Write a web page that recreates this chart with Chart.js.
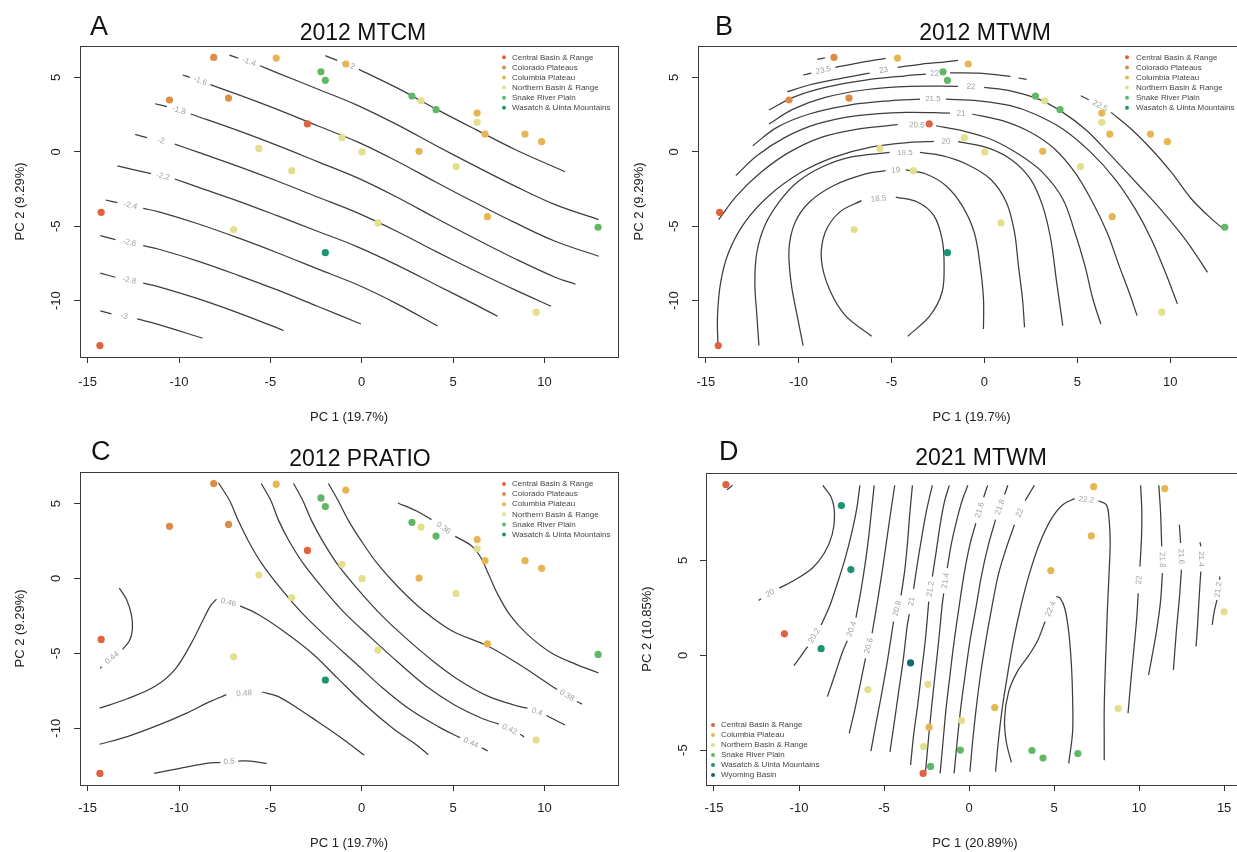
<!DOCTYPE html>
<html>
<head>
<meta charset="utf-8">
<script src="https://cdn.jsdelivr.net/npm/chart.js@4.4.1/dist/chart.umd.min.js"></script>
<style>
html, body { margin: 0; padding: 0; background: #fff; width: 1237px; height: 852px; overflow: hidden; }
.panel { position: absolute; }
</style>
</head>
<body>
<canvas id="chartA" class="panel" width="622" height="425" style="left:0;top:0"></canvas>
<canvas id="chartB" class="panel" width="640" height="425" style="left:616px;top:0"></canvas>
<canvas id="chartC" class="panel" width="622" height="427" style="left:0;top:425px"></canvas>
<canvas id="chartD" class="panel" width="640" height="427" style="left:616px;top:425px"></canvas>
<script>
var fontFamily = '"Liberation Sans", Arial, Helvetica, sans-serif';

// 2012 sites (same PCA for panels A, B, C)
var names2012 = ['Central Basin & Range', 'Colorado Plateaus', 'Columbia Plateau', 'Northern Basin & Range', 'Snake River Plain', 'Wasatch & Uinta Mountains'];
var central2012 = [[-14.26, -4.07], [-14.33, -13.02], [-2.97, 1.87]];
var colorado2012 = [[-8.10, 6.34], [-10.52, 3.48], [-7.29, 3.61]];
var columbia2012 = [[-4.68, 6.30], [-0.87, 5.90], [3.14, 0.03], [6.32, 2.60], [6.75, 1.19], [8.94, 1.19], [9.85, 0.68], [6.88, -4.36]];
var northern2012 = [[3.25, 3.43], [6.32, 1.98], [-1.08, 0.95], [0.02, -0.01], [-5.63, 0.23], [-3.83, -1.27], [5.17, -1.00], [0.89, -4.78], [-7.01, -5.23], [9.55, -10.78]];
var snake2012 = [[-2.23, 5.38], [-1.99, 4.80], [2.75, 3.75], [4.07, 2.83], [12.94, -5.07]];
var wasatch2012 = [[-1.99, -6.78]];

// 2021 sites (panel D)
var names2021 = ['Central Basin & Range', 'Columbia Plateau', 'Northern Basin & Range', 'Snake River Plain', 'Wasatch & Uinta Mountains', 'Wyoming Basin'];
var central2021 = [[-14.30, 9.00], [-10.86, 1.13], [-2.70, -6.23]];
var columbia2021 = [[7.33, 8.89], [11.51, 8.79], [7.19, 6.30], [4.81, 4.47], [1.51, -2.76], [-2.35, -3.80]];
var northern2021 = [[15.00, 2.29], [8.77, -2.80], [-5.95, -1.81], [-2.42, -1.53], [-0.44, -3.43], [-2.67, -4.81]];
var snake2021 = [[-0.51, -5.00], [-2.26, -5.86], [3.70, -5.02], [4.35, -5.42], [6.40, -5.18]];
var wasatch2021 = [[-7.51, 7.89], [-6.95, 4.52], [-8.70, 0.35]];
var wyoming2021 = [[-3.44, -0.40]];

var colCentral = '#e0623e', colColorado = '#df8b48', colColumbia = '#e5b651', colNorthern = '#e3df8d';
var colSnake = '#61b864', colWasatch = '#1b9474', colWyoming = '#0e6a6c';

// contour lines: each line is a list of segments, labels sit in the gaps
var mtcmLevels = ['-1.2', '-1.4', '-1.6', '-1.8', '-2', '-2.2', '-2.4', '-2.6', '-2.8', '-3'];
var mtcmLines = [
  [[[-1.99, 6.46], [-1.34, 6.14]], [[-0.15, 5.54], [1.91, 4.31], [4.08, 2.87], [6.25, 1.49], [8.42, 0.14], [11.13, -1.34]]],
  [[[-7.24, 6.50], [-6.76, 6.30]], [[-5.57, 5.78], [-4.59, 5.29], [-2.42, 4.22], [-0.26, 3.14], [1.91, 1.84], [4.08, 0.41], [6.25, -0.98], [8.42, -2.32], [10.59, -3.55], [12.97, -4.56]]],
  [[[-9.80, 5.16], [-9.41, 5.00]], [[-8.28, 4.51], [-6.76, 3.84], [-4.59, 2.83], [-2.42, 1.75], [-0.26, 0.68], [1.91, -0.62], [4.08, -2.05], [6.25, -3.44], [8.42, -4.78], [10.59, -6.01], [12.97, -7.02]]],
  [[[-11.31, 3.23], [-10.66, 3.03]], [[-9.36, 2.54], [-6.76, 1.42], [-4.59, 0.41], [-2.42, -0.66], [-0.26, -1.74], [1.91, -3.04], [4.08, -4.47], [6.25, -5.86], [8.42, -7.20], [10.59, -8.43], [11.71, -8.90]]],
  [[[-12.40, 1.17], [-11.75, 0.95]], [[-10.23, 0.52], [-8.93, -0.04], [-6.76, -0.98], [-4.59, -1.98], [-2.42, -3.04], [-0.26, -4.09], [1.91, -5.34], [4.08, -6.71], [6.25, -8.03], [8.42, -9.30], [10.37, -10.38]]],
  [[[-13.37, -0.95], [-11.53, -1.47]], [[-10.23, -1.83], [-8.93, -2.39], [-6.76, -3.31], [-4.59, -4.31], [-2.42, -5.34], [-0.26, -6.37], [1.91, -7.60], [4.08, -8.95], [6.25, -10.29], [7.44, -11.05]]],
  [[[-14.02, -3.24], [-13.37, -3.42]], [[-11.96, -3.80], [-11.10, -4.04], [-8.93, -4.85], [-6.76, -5.79], [-4.59, -6.80], [-2.42, -7.87], [-0.26, -8.92], [1.91, -10.20], [4.15, -11.70]]],
  [[[-14.31, -5.63], [-13.48, -5.90]], [[-11.96, -6.31], [-11.10, -6.55], [-8.93, -7.36], [-6.76, -8.30], [-4.59, -9.30], [-2.42, -10.38], [-0.04, -11.57]]],
  [[[-14.31, -8.16], [-13.48, -8.43]], [[-11.96, -8.83], [-11.10, -9.08], [-8.93, -9.89], [-6.76, -10.83], [-4.27, -12.01]]],
  [[[-14.31, -10.69], [-13.70, -10.89]], [[-12.29, -11.23], [-11.10, -11.61], [-8.71, -12.53]]]
];

var mtwm12Levels = ['18.5', '19', '19.5', '20', '20.5', '21', '21.5', '22', '22.5', '23', '23.5', ''];
var mtwm12Lines = [
  [[[-6.07, -12.39], [-7.48, -11.01], [-8.35, -9.22], [-8.78, -7.20], [-8.57, -5.41], [-7.81, -4.07], [-6.62, -3.28]], [[-4.77, -3.04], [-3.58, -3.39], [-2.72, -4.29], [-2.28, -5.86], [-2.17, -7.65], [-2.28, -9.44], [-2.93, -11.01], [-4.12, -12.39]]],
  [[[-9.76, -13.02], [-10.08, -11.01], [-10.41, -8.77], [-10.52, -6.53], [-10.19, -4.74], [-9.43, -3.39], [-8.13, -2.28], [-6.40, -1.49], [-5.32, -1.27]], [[-4.23, -1.22], [-3.15, -1.49], [-2.07, -2.28], [-1.20, -3.62], [-0.55, -5.41], [-0.23, -7.65], [-0.05, -9.89], [-0.05, -11.90]]],
  [[[-12.14, -13.02], [-12.25, -11.01], [-12.36, -8.77], [-12.25, -6.75], [-11.82, -4.96], [-11.06, -3.39], [-10.08, -2.05], [-8.78, -1.04], [-7.27, -0.37], [-5.10, -0.04]], [[-3.47, -0.04], [-2.28, -0.26], [-0.98, -0.82], [0.32, -1.83], [1.18, -3.39], [1.62, -5.41], [1.83, -7.65], [2.05, -9.89], [2.16, -11.79]]],
  [[[-14.35, -13.02], [-14.37, -11.01], [-14.20, -8.77], [-13.77, -6.75], [-12.90, -4.74], [-11.60, -2.95], [-9.87, -1.38], [-8.13, -0.37], [-6.18, 0.30], [-4.02, 0.63], [-2.72, 0.70]], [[-1.42, 0.68], [0.10, 0.30], [1.40, -0.48], [2.48, -1.83], [3.13, -3.62], [3.57, -5.86], [3.89, -8.77], [4.22, -11.68]]],
  [[[-14.31, -4.56], [-13.33, -2.95], [-12.03, -1.38], [-10.52, -0.04], [-8.78, 0.97], [-6.83, 1.53], [-4.67, 1.82]], [[-2.61, 1.75], [-1.20, 1.42], [0.32, 0.86], [1.83, -0.15], [3.13, -1.38], [4.22, -3.17], [4.87, -5.41], [5.41, -7.65], [5.84, -9.89], [6.27, -11.57]]],
  [[[-13.38, -1.60], [-12.25, -0.26], [-10.73, 0.97], [-9.00, 1.87], [-6.83, 2.43], [-4.23, 2.65], [-1.85, 2.60]], [[-0.66, 2.54], [0.97, 2.09], [2.48, 1.31], [3.78, 0.19], [4.87, -1.38], [5.73, -3.17], [6.60, -5.41], [7.25, -7.65], [7.79, -9.44], [8.22, -11.01]]],
  [[[-12.47, 0.41], [-11.17, 1.64], [-9.43, 2.54], [-7.27, 3.14], [-5.10, 3.43], [-3.47, 3.54]], [[-2.07, 3.54], [-0.33, 3.43], [1.40, 3.10], [2.70, 2.54], [4.22, 1.53], [5.73, -0.04], [7.03, -1.83], [8.12, -3.84], [8.98, -5.86], [9.74, -8.10], [10.39, -10.22]]],
  [[[-11.60, 1.87], [-10.30, 2.87], [-8.57, 3.66], [-6.40, 4.17], [-4.02, 4.40], [-1.42, 4.40]], [[-0.01, 4.33], [1.40, 4.10], [2.92, 3.54], [4.22, 2.65], [5.52, 1.42], [6.82, -0.26], [8.33, -2.28], [9.63, -4.07], [10.93, -6.08], [12.01, -8.10]]],
  [[[-11.60, 2.81], [-10.30, 3.66], [-8.57, 4.33], [-6.40, 4.82], [-4.23, 5.11], [-3.15, 5.22]], [[-1.85, 5.31], [-0.33, 5.29], [1.40, 5.07]], [[1.83, 4.96], [2.27, 4.87]], [[5.19, 3.77], [5.62, 3.50]], [[6.82, 2.65], [7.90, 1.53], [8.98, 0.19], [10.07, -1.38], [11.15, -3.17], [12.23, -4.51], [12.88, -5.19]]],
  [[[-10.62, 4.04], [-9.43, 4.49], [-7.92, 4.89], [-6.18, 5.29]], [[-4.67, 5.67], [-3.37, 5.90], [-2.07, 6.05], [-1.42, 6.14]]],
  [[[-9.76, 5.16], [-9.32, 5.29]], [[-8.02, 5.67], [-6.83, 5.96], [-5.32, 6.28]]],
  [[[-9.00, 6.21], [-8.57, 6.32]]]
];
var mtwm12Gaps = { 8: [0, 3] };

var pratioLevels = ['0.5', '0.48', '0.46', '0.44', '0.44', '0.42', '0.4', '0.38', '0.36'];
var pratioLines = [
  [[[-11.36, -13.02], [-10.01, -12.69], [-8.50, -12.35], [-7.74, -12.28]], [[-6.76, -12.19], [-6.11, -12.19], [-5.20, -12.35]]],
  [[[-14.35, -11.07], [-12.83, -10.56], [-11.10, -9.78], [-9.58, -8.99], [-8.28, -8.21], [-7.41, -7.76]], [[-5.46, -7.58], [-4.59, -7.87], [-3.51, -8.66], [-2.42, -9.55], [-1.34, -10.45], [-0.47, -11.23], [0.13, -11.79]]],
  [[[-14.35, -8.66], [-12.83, -8.03], [-11.31, -7.20], [-10.23, -6.08], [-9.36, -4.40], [-8.71, -2.84], [-8.28, -1.83], [-7.95, -1.38]], [[-6.65, -1.83], [-5.68, -2.39], [-4.16, -3.62], [-2.64, -5.07], [-1.34, -6.64], [0.18, -8.43], [1.70, -10.00], [3.00, -11.12], [3.65, -11.75]]],
  [[[-13.27, -0.64], [-12.88, -1.38], [-12.61, -2.39], [-12.55, -3.39], [-12.72, -4.18], [-13.09, -4.74]], [[-14.24, -5.88], [-14.31, -6.01]]],
  [[[-7.84, 6.39], [-7.24, 5.22], [-6.76, 3.88], [-6.22, 2.54], [-5.46, 0.97], [-4.48, -0.60], [-3.29, -2.28], [-1.88, -3.95], [-0.36, -5.63], [1.15, -7.31], [2.67, -8.77], [4.19, -9.89], [5.38, -10.63]], [[6.57, -11.30], [6.90, -11.52]]],
  [[[-5.50, 6.34], [-4.98, 5.22], [-4.55, 3.88], [-3.99, 2.54], [-3.18, 0.97], [-2.16, -0.60], [-0.95, -2.28], [0.50, -3.95], [2.02, -5.63], [3.54, -7.20], [5.06, -8.43], [6.57, -9.33], [7.51, -9.73]], [[8.68, -10.40], [8.89, -10.58]]],
  [[[-3.73, 6.34], [-3.23, 5.22], [-2.75, 3.88], [-2.16, 2.54], [-1.34, 0.97], [-0.30, -0.60], [0.94, -2.28], [2.39, -3.95], [3.91, -5.52], [5.42, -6.86], [6.94, -7.87], [8.42, -8.48], [9.07, -8.66]], [[10.11, -9.15], [11.13, -9.78]]],
  [[[-1.82, 6.34], [-1.30, 5.22], [-0.73, 3.88], [-0.04, 2.54], [0.87, 0.97], [2.02, -0.60], [3.39, -2.16], [4.95, -3.51], [6.90, -4.51], [8.63, -5.75], [10.15, -6.98], [10.69, -7.42]], [[11.78, -8.21], [12.06, -8.39]]],
  [[[1.98, 5.04], [3.00, 4.51], [3.82, 3.93]], [[5.12, 2.81], [5.99, 2.20], [6.51, 1.42], [6.94, 0.30], [7.44, -1.04], [8.09, -2.39], [9.07, -3.73], [10.37, -4.96], [11.67, -5.70], [12.97, -6.31]]]
];

var mtwm21Levels = ['', '20', '20.2', '20.4', '20.6', '20.8', '21', '21.2', '21.4', '21.6', '21.8', '22', '22.2', '22.4', '22', '21.8', '21.6', '21.4', '21.2'];
var mtwm21Lines = [
  [[[-14.23, 8.73], [-13.91, 8.96]]],
  [[[-8.60, 8.96], [-8.09, 8.29], [-7.91, 7.41], [-8.05, 6.36], [-8.51, 5.39], [-9.21, 4.60], [-10.23, 3.98], [-11.16, 3.54]], [[-12.23, 2.98], [-12.37, 2.89]]],
  [[[-10.30, -0.55], [-9.84, 0.02], [-9.49, 0.46]], [[-8.70, 1.60], [-8.21, 2.57], [-7.74, 3.80], [-7.28, 5.12], [-6.88, 6.53], [-6.60, 7.76], [-6.42, 8.96]]],
  [[[-8.33, -2.18], [-7.86, -0.95], [-7.47, 0.11], [-7.16, 0.76]], [[-6.65, 1.99], [-6.37, 3.36], [-6.12, 4.77], [-5.91, 6.18], [-5.74, 7.59], [-5.58, 8.96]]],
  [[[-7.05, -4.12], [-6.70, -2.80], [-6.37, -1.39], [-6.09, -0.16]], [[-5.70, 1.16], [-5.42, 2.66], [-5.14, 4.24], [-4.88, 5.83], [-4.63, 7.41], [-4.37, 8.96]]],
  [[[-5.77, -5.05], [-5.49, -3.68], [-5.19, -2.27], [-4.84, -0.51], [-4.44, 1.78]], [[-4.00, 3.15], [-3.79, 4.42], [-3.63, 5.83], [-3.49, 7.41], [-3.33, 8.96]]],
  [[[-4.65, -5.09], [-4.42, -3.68], [-4.14, -1.92], [-3.86, -0.16], [-3.63, 1.60], [-3.51, 2.17]], [[-3.26, 3.50], [-3.05, 4.77], [-2.79, 6.18], [-2.51, 7.59], [-2.16, 8.96]]],
  [[[-3.44, -5.79], [-3.26, -4.21], [-3.02, -2.62], [-2.79, -0.86], [-2.56, 0.90], [-2.37, 2.83]], [[-2.16, 4.15], [-1.93, 5.48], [-1.70, 6.88], [-1.44, 8.12], [-1.16, 8.96]]],
  [[[-2.56, -6.14], [-2.40, -4.56], [-2.21, -2.80], [-1.98, -0.86], [-1.77, 0.90], [-1.58, 2.66], [-1.49, 3.27]], [[-1.28, 4.60], [-1.05, 5.83], [-0.74, 7.06], [-0.42, 8.12], [-0.07, 8.96]]],
  [[[-1.70, -6.23], [-1.53, -4.56], [-1.35, -2.80], [-1.12, -1.04], [-0.88, 0.72], [-0.60, 2.48], [-0.30, 4.24], [0.05, 5.83], [0.40, 6.97]], [[0.86, 8.33], [1.09, 8.96]]],
  [[[-0.88, -6.23], [-0.70, -4.56], [-0.49, -2.80], [-0.23, -1.04], [0.05, 0.72], [0.40, 2.48], [0.74, 4.24], [1.14, 5.83], [1.56, 7.15]], [[2.09, 8.47], [2.28, 8.96]]],
  [[[0.05, -6.14], [0.21, -4.56], [0.42, -2.80], [0.67, -1.04], [0.98, 0.72], [1.33, 2.48], [1.72, 4.24], [2.19, 5.65], [2.67, 6.88]], [[3.30, 8.15], [3.84, 8.96]]],
  [[[1.56, -6.14], [1.72, -4.56], [1.95, -2.80], [2.26, -1.04], [2.60, 0.72], [3.02, 2.48], [3.53, 4.24], [4.12, 5.83], [4.81, 7.15], [5.51, 7.94], [6.21, 8.26]], [[7.60, 8.15], [8.07, 7.94], [8.23, 7.24], [8.30, 6.00], [8.23, 4.24], [8.14, 2.48], [8.07, 0.72], [8.00, -1.04], [7.95, -2.80], [7.95, -4.56], [7.95, -5.53]]],
  [[[2.49, -5.65], [2.19, -4.56], [2.09, -3.33], [2.33, -1.92], [2.84, -0.86], [3.53, 0.02], [4.05, 0.81], [4.47, 1.78]], [[5.12, 3.10], [5.35, 3.01], [5.63, 2.48], [5.86, 1.25], [6.02, -0.51], [6.09, -2.27], [6.09, -4.03], [5.86, -5.70]]],
  [[[10.09, 8.96], [10.16, 7.59], [10.14, 6.18], [10.05, 4.68]], [[9.95, 3.27], [9.86, 1.95], [9.70, 0.37], [9.53, -1.21], [9.35, -3.06]]],
  [[[11.16, 8.96], [11.26, 7.59], [11.33, 5.74]], [[11.37, 4.33], [11.26, 2.83], [11.02, 1.25], [10.74, -0.16], [10.56, -1.04]]],
  [[[12.37, 6.88], [12.44, 5.92]], [[12.49, 4.51], [12.37, 3.01], [12.19, 1.25], [12.02, -0.77]]],
  [[[13.58, 5.97], [13.63, 5.74]], [[13.63, 4.42], [13.53, 3.01], [13.44, 1.60], [13.35, 0.46]]],
  [[[14.74, 4.15], [14.74, 3.98]], [[14.58, 2.92], [14.42, 2.31], [14.30, 1.60]]]
];

var contourSets = {
  chartA: { levels: mtcmLevels, lines: mtcmLines, gaps: {} },
  chartB: { levels: mtwm12Levels, lines: mtwm12Lines, gaps: mtwm12Gaps },
  chartC: { levels: pratioLevels, lines: pratioLines, gaps: {} },
  chartD: { levels: mtwm21Levels, lines: mtwm21Lines, gaps: {} }
};

var panelText = {
  chartA: { letter: 'A', letterX: 90, letterY: 35, title: '2012 MTCM', titleX: 363, titleY: 40 },
  chartB: { letter: 'B', letterX: 99, letterY: 35, title: '2012 MTWM', titleX: 369, titleY: 40 },
  chartC: { letter: 'C', letterX: 91, letterY: 35, title: '2012 PRATIO', titleX: 360, titleY: 41 },
  chartD: { letter: 'D', letterX: 103, letterY: 35, title: '2021 MTWM', titleX: 365, titleY: 40 }
};

var legendSpots = {
  chartA: { dotX: 504, textX: 512, y0: 57.3, step: 10.1 },
  chartB: { dotX: 511, textX: 520, y0: 57.3, step: 10.1 },
  chartC: { dotX: 504, textX: 512, y0: 59, step: 10.1 },
  chartD: { dotX: 97, textX: 105, y0: 300, step: 10 }
};

function toXY(pairs) {
  return pairs.map(function(p) { return { x: p[0], y: p[1] }; });
}

var contourLabelPlugin = {
  id: 'contourLabels',
  beforeDatasetsDraw: function(chart) {
    var set = contourSets[chart.canvas.id];
    var xs = chart.scales.x, ys = chart.scales.y, ctx = chart.ctx;
    ctx.save();
    ctx.beginPath();
    ctx.rect(chart.chartArea.left, chart.chartArea.top, chart.chartArea.width, chart.chartArea.height);
    ctx.clip();
    ctx.font = '8px ' + fontFamily;
    ctx.fillStyle = '#a0a0a0';
    ctx.textAlign = 'center';
    ctx.textBaseline = 'middle';
    set.lines.forEach(function(segs, i) {
      var text = set.levels[i];
      if (!text) return;
      var gaps = set.gaps[i] || [0];
      gaps.forEach(function(g) {
        if (g >= segs.length - 1) return;
        var a = segs[g][segs[g].length - 1], b = segs[g + 1][0];
        var ax = xs.getPixelForValue(a[0]), ay = ys.getPixelForValue(a[1]);
        var bx = xs.getPixelForValue(b[0]), by = ys.getPixelForValue(b[1]);
        var ang = Math.atan2(by - ay, bx - ax);
        if (ang > Math.PI / 2) ang -= Math.PI;
        if (ang < -Math.PI / 2) ang += Math.PI;
        ctx.save();
        ctx.translate((ax + bx) / 2, (ay + by) / 2);
        ctx.rotate(ang);
        ctx.fillText(text, 0, 0);
        ctx.restore();
      });
    });
    ctx.restore();
  }
};

var decorPlugin = {
  id: 'decor',
  afterDraw: function(chart) {
    var ctx = chart.ctx, area = chart.chartArea;
    var t = panelText[chart.canvas.id], lg = legendSpots[chart.canvas.id];
    ctx.save();
    // plot frame
    ctx.strokeStyle = '#3a3a3a';
    ctx.lineWidth = 1;
    ctx.strokeRect(Math.round(area.left) + 0.5, Math.round(area.top) + 0.5, Math.round(area.width), Math.round(area.height));
    // letter and title
    ctx.fillStyle = '#111';
    ctx.textBaseline = 'alphabetic';
    ctx.textAlign = 'left';
    ctx.font = '27px ' + fontFamily;
    ctx.fillText(t.letter, t.letterX, t.letterY);
    ctx.textAlign = 'center';
    ctx.font = '23px ' + fontFamily;
    ctx.fillText(t.title, t.titleX, t.titleY);
    // legend
    ctx.textAlign = 'left';
    ctx.textBaseline = 'middle';
    ctx.font = '8px ' + fontFamily;
    var k = 0;
    chart.data.datasets.forEach(function(ds) {
      if (!ds.label) return;
      var y = lg.y0 + k * lg.step;
      ctx.fillStyle = ds.backgroundColor;
      ctx.beginPath();
      ctx.arc(lg.dotX, y, 2, 0, Math.PI * 2);
      ctx.fill();
      ctx.fillStyle = '#444';
      ctx.fillText(ds.label, lg.textX, y);
      k++;
    });
    ctx.restore();
  }
};

function makePanel(id, opt) {
  var datasets = [];
  opt.groups.forEach(function(g, i) {
    datasets.push({
      type: 'scatter',
      label: opt.names[i],
      data: toXY(g),
      backgroundColor: opt.colors[i],
      borderWidth: 0,
      pointRadius: 3.6,
      order: 0
    });
  });
  contourSets[id].lines.forEach(function(segs) {
    segs.forEach(function(seg) {
      datasets.push({
        type: 'line',
        data: toXY(seg),
        borderColor: '#3d3d3d',
        borderWidth: 1.25,
        pointRadius: 0,
        tension: 0.35,
        fill: false,
        order: 1
      });
    });
  });

  var tickFont = { family: fontFamily, size: 13 };
  var gridOpts = { drawOnChartArea: false, drawTicks: true, tickLength: 6, color: '#333', lineWidth: 1 };

  return new Chart(document.getElementById(id), {
    type: 'scatter',
    data: { datasets: datasets },
    options: {
      responsive: false,
      animation: false,
      events: [],
      layout: { padding: opt.padding },
      plugins: { legend: { display: false }, tooltip: { enabled: false }, title: { display: false } },
      scales: {
        x: {
          type: 'linear',
          min: opt.xRange[0],
          max: opt.xRange[1],
          afterBuildTicks: function(s) { s.ticks = opt.xTicks.map(function(v) { return { value: v }; }); },
          afterFit: function(s) { s.height = opt.xAxisHeight; },
          grid: gridOpts,
          border: { display: false },
          ticks: { font: tickFont, color: '#222', padding: opt.xTickPad, maxRotation: 0, autoSkip: false, callback: function(v) { return String(v); } },
          title: { display: true, text: opt.xTitle, font: tickFont, color: '#222', padding: { top: 0, bottom: opt.xTitlePad } }
        },
        y: {
          type: 'linear',
          min: opt.yRange[0],
          max: opt.yRange[1],
          afterBuildTicks: function(s) { s.ticks = opt.yTicks.map(function(v) { return { value: v }; }); },
          afterFit: function(s) { s.width = opt.yAxisWidth; },
          grid: gridOpts,
          border: { display: false },
          ticks: { font: tickFont, color: '#222', padding: opt.yTickPad, minRotation: 90, maxRotation: 90, crossAlign: 'center', autoSkip: false, callback: function(v) { return String(v); } },
          title: { display: true, text: opt.yTitle, font: tickFont, color: '#222', padding: { top: opt.yTitlePad, bottom: 0 } }
        }
      }
    },
    plugins: [contourLabelPlugin, decorPlugin]
  });
}

var groups2012 = [central2012, colorado2012, columbia2012, northern2012, snake2012, wasatch2012];
var colors2012 = [colCentral, colColorado, colColumbia, colNorthern, colSnake, colWasatch];
var groups2021 = [central2021, columbia2021, northern2021, snake2021, wasatch2021, wyoming2021];
var colors2021 = [colCentral, colColumbia, colNorthern, colSnake, colWasatch, colWyoming];

var range2012x = [-15.42, 14.03], range2012y = [-13.79, 7.11];
var ticks2012x = [-15, -10, -5, 0, 5, 10], ticks2012y = [-10, -5, 0, 5];

makePanel('chartA', {
  groups: groups2012, names: names2012, colors: colors2012,
  xRange: range2012x, yRange: range2012y, xTicks: ticks2012x, yTicks: ticks2012y,
  xTitle: 'PC 1 (19.7%)', yTitle: 'PC 2 (9.29%)',
  padding: { left: 0, right: 4, top: 46, bottom: 0 },
  yAxisWidth: 80, xAxisHeight: 68, xTickPad: 12, yTickPad: 8, yTitlePad: 13, xTitlePad: 0
});

makePanel('chartB', {
  groups: groups2012, names: names2012, colors: colors2012,
  xRange: range2012x, yRange: range2012y, xTicks: ticks2012x, yTicks: ticks2012y,
  xTitle: 'PC 1 (19.7%)', yTitle: 'PC 2 (9.29%)',
  padding: { left: 0, right: 11, top: 46, bottom: 0 },
  yAxisWidth: 82, xAxisHeight: 68, xTickPad: 12, yTickPad: 8, yTitlePad: 16, xTitlePad: 0
});

makePanel('chartC', {
  groups: groups2012, names: names2012, colors: colors2012,
  xRange: range2012x, yRange: range2012y, xTicks: ticks2012x, yTicks: ticks2012y,
  xTitle: 'PC 1 (19.7%)', yTitle: 'PC 2 (9.29%)',
  padding: { left: 0, right: 4, top: 47, bottom: 0 },
  yAxisWidth: 80, xAxisHeight: 67, xTickPad: 10, yTickPad: 8, yTitlePad: 13, xTitlePad: 1
});

makePanel('chartD', {
  groups: groups2021, names: names2021, colors: colors2021,
  xRange: [-15.47, 16.17], yRange: [-6.84, 9.61], xTicks: [-15, -10, -5, 0, 5, 10, 15], yTicks: [-5, 0, 5],
  xTitle: 'PC 1 (20.89%)', yTitle: 'PC 2 (10.85%)',
  padding: { left: 0, right: 12, top: 48, bottom: 0 },
  yAxisWidth: 90, xAxisHeight: 67, xTickPad: 10, yTickPad: 11, yTitlePad: 24, xTitlePad: 1
});
</script>
</body>
</html>
